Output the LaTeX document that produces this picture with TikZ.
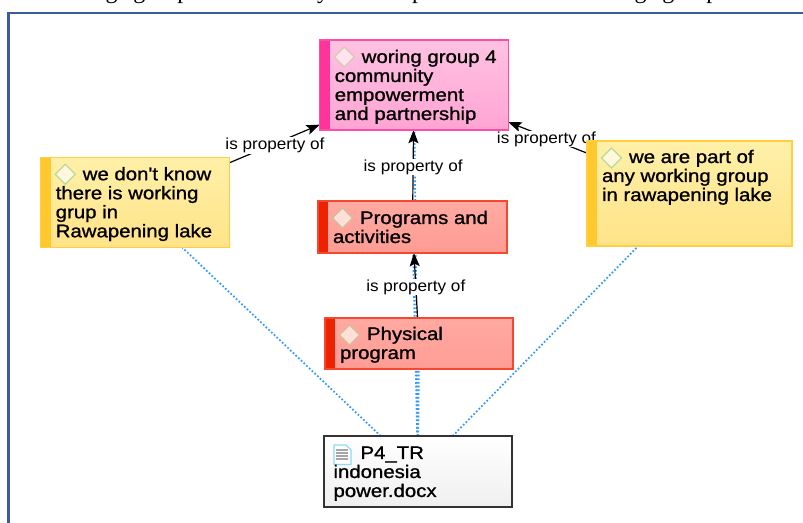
\documentclass[tikz,border=0pt]{standalone}
\usepackage{fontspec}
\setmainfont{Liberation Sans}
\newfontfamily\boxfont[FakeBold=1.1,FakeStretch=1.12]{Liberation Sans}
\newfontfamily\labelfont[FakeStretch=1.07]{Liberation Sans}
\newfontfamily\topfont{Liberation Serif}
\usetikzlibrary{arrows.meta,calc}
\pgfdeclarelayer{edges}
\pgfsetlayers{edges,main}
\definecolor{frameblue}{HTML}{3A5C9C}
\definecolor{dotblue}{HTML}{3399FF}
\definecolor{yellowtop}{HTML}{FFF0A8}
\definecolor{yellowbot}{HTML}{FFE388}
\definecolor{yellowbar}{HTML}{FFC82C}
\definecolor{yellowline}{HTML}{FFCF40}
\definecolor{redtop}{HTML}{FFAAA2}
\definecolor{redbot}{HTML}{FF9C94}
\definecolor{redbar}{HTML}{EE2200}
\definecolor{redline}{HTML}{F5492F}
\definecolor{pinktop}{HTML}{FFC2E2}
\definecolor{pinkbot}{HTML}{FFA4D4}
\definecolor{pinkbar}{HTML}{FF3399}
\definecolor{pinkline}{HTML}{FF4DA6}
\definecolor{pinkmarkline}{HTML}{D8C8B0}
\definecolor{pinkmarkfill}{HTML}{FFE4F0}
\definecolor{yellowmarkline}{HTML}{B8DC98}
\definecolor{yellowmarkfill}{HTML}{FFF8DC}
\definecolor{redmarkline}{HTML}{D0C09A}
\definecolor{redmarkfill}{HTML}{FFE0D8}
\newcommand{\px}[1]{\dimexpr#1pt*3/4\relax}
% width, height, left margin, first-line indent, first baseline, text
\newcommand{\boxbody}[6]{\parbox[c][\px{#2}][t]{\px{#1}}{\boxfont\fontsize{\px{18.2}}{\px{19}}\selectfont
  \leftskip=\px{#3}\rightskip=0pt plus 1fil\parindent=\px{#4}\rule{0pt}{\px{#5}}#6}}
\tikzset{
  x=0.75pt,y=0.75pt,
  basebox/.style={draw,outer sep=0pt,inner sep=0pt,line width=0.8pt,rectangle},
  codebox/.style={basebox,draw=#1line,top color=#1top,bottom color=#1bot,
    path picture={
      \fill[#1bar] (path picture bounding box.south west) rectangle ($(path picture bounding box.north west)+(10,0)$);
      \draw[draw=#1markline,fill=#1markfill,line width=0.9pt]
        ($(path picture bounding box.north west)+(14.5,-17)$) -- ++(10,10) -- ++(10,-10) -- ++(-10,-10) -- cycle;
    }},
  pinkbox/.style={codebox=pink},
  yellowbox/.style={codebox=yellow},
  redbox/.style={codebox=red},
  docbox/.style={basebox,draw=black!80,line width=1.1pt,top color=white,bottom color=black!6,
    path picture={
      \coordinate (nw) at (path picture bounding box.north west);
      \draw[draw=cyan!45,fill=white,line width=1pt,line join=round]
        ($(nw)+(10,-9)$) -- ++(12,0) -- ++(5,-5) -- ++(0,-14.5) -- ++(-17,0) -- cycle;
      \foreach \yy in {-14,-17,-20,-23}{\draw[black!35,line width=0.8pt] ($(nw)+(12,\yy)$) -- ++(12,0);}
    }},
  linklabel/.style={fill=white,inner xsep=1pt,inner ysep=0.5pt,outer sep=0pt,font=\labelfont\fontsize{\px{16}}{\px{18}}\selectfont},
  relation/.style={draw=black,line width=0.9pt,-{Stealth[length=10pt,width=7.5pt,inset=2pt]}},
  codelink/.style={draw=dotblue,line width=1.3pt,dash pattern=on 1.3pt off 1.5pt},
  toptext/.style={font=\topfont\fontsize{\px{24}}{\px{26}}\selectfont,anchor=base,inner sep=0pt},
}
\begin{document}
\begin{tikzpicture}
\useasboundingbox (0,0) rectangle (803,-523);
\begin{scope}
  \clip (0,0) rectangle (803,-3.5);
  \node[toptext,anchor=base east] (topa) at (118,1.5) {working};
  \node[toptext,anchor=base west] (topb) at (133,1.5) {group};
  \node[toptext] (topc) at (323,1.5) {y};
  \node[toptext] (topd) at (418,1.5) {p};
  \node[toptext,anchor=base east] (tope) at (647,1.5) {working};
  \node[toptext,anchor=base west] (topf) at (662,1.5) {group};
\end{scope}
\begin{scope}
  \clip (0,0) rectangle (803,-523);
  \draw[frameblue,line width=1.6pt] (8.5,-530) -- (8.5,-13) -- (810,-13);
\end{scope}

\node[pinkbox,minimum width=188.5*0.75pt,minimum height=90*0.75pt] (wg4) at (414,-85)
  {\boxbody{188.5}{90}{15}{27}{23}{woring group 4\\community\\empowerment\\and partnership}};
\node[yellowbox,minimum width=188.5*0.75pt,minimum height=90.5*0.75pt] (dk) at (135,-202.5)
  {\boxbody{188.5}{90.5}{15}{27}{23}{we don't know\\there is working\\grup in\\Rawapening lake}};
\node[yellowbox,minimum width=205*0.75pt,minimum height=105*0.75pt] (part) at (689.5,-193.5)
  {\boxbody{205}{105}{15}{27}{22}{we are part of\\any working group\\in rawapening lake}};
\node[redbox,minimum width=189*0.75pt,minimum height=52*0.75pt] (prog) at (412.5,-227)
  {\boxbody{189}{52}{15}{27}{23}{Programs and\\activities}};
\node[redbox,minimum width=188*0.75pt,minimum height=51*0.75pt] (phys) at (419,-343.5)
  {\boxbody{188}{51}{15}{27}{22}{Physical\\program}};
\node[docbox,minimum width=188*0.75pt,minimum height=71*0.75pt] (doc) at (418,-471.5)
  {\boxbody{188}{71}{9.5}{27}{23}{P4\_TR\\indonesia\\power.docx}};

\begin{pgfonlayer}{edges}
  \draw[codelink] (doc) -- (dk);
  \draw[codelink] (doc) -- (part);
  \draw[codelink] (doc) -- (wg4);
  \draw[codelink] (doc) -- (prog);
  \draw[codelink] (doc) -- (phys);
  \draw[relation] (dk) -- node[linklabel,pos=0.505,yshift=-1.5pt] (l1) {is property of} (wg4);
  \draw[relation] (part) -- node[linklabel,pos=0.515,yshift=-1.5pt] (l2) {is property of} (wg4);
  \draw[relation] (prog) -- node[linklabel,pos=0.48] (l3) {is property of} (wg4);
  \draw[relation] (phys) -- node[linklabel,pos=0.49,yshift=-0.7pt] (l4) {is property of} (prog);
\end{pgfonlayer}
\end{tikzpicture}
\end{document}
